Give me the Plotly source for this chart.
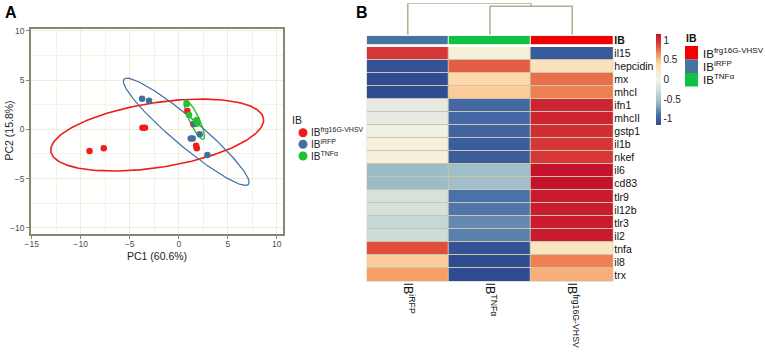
import numpy as np
import plotly.graph_objects as go

W, H = 765, 356

# ---------------- Panel A data (PCA scores) ----------------
groups = ["IB<sup>frg16G-VHSV</sup>", "IB<sup>iRFP</sup>", "IB<sup>TNFα</sup>"]
group_colors = ["#ee1c1c", "#41709f", "#25c030"]

pc1_frg = [-9.1, -7.65, -3.7, -3.45, 0.88, 1.49, 1.77, 1.84]
pc2_frg = [-2.2, -1.93, 0.15, 0.15, 1.86, 0.54, -1.66, -1.93]
pc1_irfp = [-3.74, -3.03, 1.22, 1.42, 2.14, 2.92, 1.6]
pc2_irfp = [3.11, 2.91, -0.92, -0.92, -0.51, -2.61, 0.55]
pc1_tnf = [0.82, 1.05, 1.84, 1.9, 1.75]
pc2_tnf = [2.57, 1.45, 0.95, 0.6, 0.85]

# ellipse parameters: centre x, centre y, semi-major, semi-minor, angle (deg)
ell_frg = [-2.2, -0.58, 10.97, 3.29, 8.8]
ell_irfp = [0.76, -0.25, 8.3, 1.4, -40.1]
ell_tnf = [1.58, 0.98, 2.2, 0.5, -64.9]

# ---------------- Panel B data (row-scaled heatmap) ----------------
genes = ["il15", "hepcidin", "mx", "mhcI", "ifn1", "mhcII", "gstp1", "il1b", "nkef",
         "il6", "cd83", "tlr9", "il12b", "tlr3", "il2", "tnfa", "il8", "trx"]
col_labels = ["IB<sup>iRFP</sup>", "IB<sup>TNFα</sup>", "IB<sup>frg16G-VHSV</sup>"]
val_irfp = [0.95, -1.10, -1.15, -1.15, -0.10, -0.10, -0.02, 0.08, 0.08,
            -0.58, -0.58, -0.22, -0.23, -0.32, -0.28, 0.85, 0.45, 0.60]
val_tnf = [0.10, 0.80, 0.40, 0.45, -0.95, -0.95, -0.98, -1.03, -1.03,
           -0.56, -0.56, -0.88, -0.86, -0.78, -0.82, -1.10, -1.15, -1.15]
val_frg = [-1.05, 0.30, 0.75, 0.70, 1.05, 1.05, 1.00, 0.95, 0.95,
           1.14, 1.14, 1.10, 1.09, 1.10, 1.10, 0.25, 0.70, 0.55]
annot_colors = ["#4574a3", "#10c040", "#f00000"]   # column annotation per column
legend_ib_labels = ["IB<sup>frg16G-VHSV</sup>", "IB<sup>iRFP</sup>", "IB<sup>TNFα</sup>"]
legend_ib_colors = ["#f00000", "#4574a3", "#10c040"]
# dendrogram merge heights (col2+col3, then col1 + cluster)
merge_h = [0.905, 1.0]

FONT = "Liberation Sans, Arial, sans-serif"


def px_x(p):
    return p / W


def px_y(p):
    return 1 - p / H


def ellipse(cx, cy, a, b, ang):
    t = np.linspace(0, 2 * np.pi, 240)
    th = np.deg2rad(ang)
    x = cx + a * np.cos(t) * np.cos(th) - b * np.sin(t) * np.sin(th)
    y = cy + a * np.cos(t) * np.sin(th) + b * np.sin(t) * np.cos(th)
    return x, y


fig = go.Figure()

# ellipses
for prm, col, lw in [(ell_frg, group_colors[0], 1.6), (ell_irfp, group_colors[1], 1.2),
                     (ell_tnf, group_colors[2], 1.4)]:
    ex, ey = ellipse(*prm)
    fig.add_trace(go.Scatter(x=ex, y=ey, mode="lines", line=dict(color=col, width=lw),
                             showlegend=False, hoverinfo="skip", xaxis="x", yaxis="y"))

# points
for xs, ys, name, col in [(pc1_frg, pc2_frg, groups[0], group_colors[0]),
                          (pc1_irfp, pc2_irfp, groups[1], group_colors[1]),
                          (pc1_tnf, pc2_tnf, groups[2], group_colors[2])]:
    fig.add_trace(go.Scatter(x=xs, y=ys, mode="markers", name=name,
                             marker=dict(color=col, size=6.5), xaxis="x", yaxis="y",
                             showlegend=False))

# heatmap
z = [[a, b, c] for a, b, c in zip(val_irfp, val_tnf, val_frg)]
cscale = [[0.0, "#2f4b93"], [0.12, "#4a72a8"], [0.25, "#9dbdc8"], [0.4, "#d6e0dc"],
          [0.5, "#f4f2e6"], [0.58, "#f8eccc"], [0.68, "#fdd6a6"], [0.78, "#f3925a"],
          [0.88, "#dc4438"], [1.0, "#c4102c"]]
fig.add_trace(go.Heatmap(
    z=z, x=[0, 1, 2], y=list(range(len(genes))), colorscale=cscale,
    zmin=-1.155, zmax=1.155, xgap=1, ygap=1, xaxis="x2", yaxis="y2",
    hoverinfo="skip",
    colorbar=dict(x=px_x(656), xanchor="left", y=px_y(34), yanchor="top",
                  len=91, lenmode="pixels", thickness=5, thicknessmode="pixels",
                  outlinewidth=0, ticks="", tickvals=[-1, -0.5, 0, 0.5, 1],
                  ticktext=["-1", "-0.5", "0", "0.5", "1"],
                  tickfont=dict(size=10, color="#222", family=FONT), xpad=0, ypad=0)))

# annotation row
fig.add_trace(go.Heatmap(
    z=[[0, 1, 2]], x=[0, 1, 2], y=[0],
    colorscale=[[0, annot_colors[0]], [0.333, annot_colors[0]], [0.334, annot_colors[1]],
                [0.666, annot_colors[1]], [0.667, annot_colors[2]], [1, annot_colors[2]]],
    zmin=0, zmax=2, showscale=False, xgap=1, ygap=0, xaxis="x2", yaxis="y4",
    hoverinfo="skip"))

# dendrogram
c_mid = (1 + 2) / 2
dx = [1, 1, 2, 2, None, 0, 0, c_mid, c_mid]
dy = [0, merge_h[0], merge_h[0], 0, None, 0, merge_h[1], merge_h[1], merge_h[0]]
fig.add_trace(go.Scatter(x=dx, y=dy, mode="lines", line=dict(color="#b3ac94", width=1.5),
                         showlegend=False, hoverinfo="skip", xaxis="x2", yaxis="y3"))

# ---------- layout ----------
grid_major = "#efecd8"
grid_minor = "#f5f3e6"
axcol = "#8a8674"


def label(text, x, y, size, xa="center", ya="middle", color="#222", angle=0):
    return dict(text=text, x=px_x(x), y=px_y(y), xref="paper", yref="paper", xanchor=xa,
                yanchor=ya, showarrow=False, textangle=angle,
                font=dict(size=size, family=FONT, color=color))


shapes = [
    # cell border background
    dict(type="rect", xref="x2", yref="y2", x0=-0.51, x1=2.51, y0=-0.53, y1=len(genes) - 0.47,
         fillcolor="#ccc5ad", line=dict(width=0), layer="below"),
]
annotations = [
    label("<b>A</b>", 3, 12.5, 16, xa="left", color="#000"),
    label("<b>B</b>", 354, 12.5, 16, xa="left", color="#000"),
    label("PC1 (60.6%)", 157, 256, 10.5),
    label("PC2 (15.8%)", 8.5, 131, 10.5, angle=-90),
    label("<b>IB</b>", 684, 38.5, 10.5, xa="left", color="#111"),
    label("IB", 289.5, 119.5, 10.5, xa="left"),
]
# legend of panel A (circles + labels)
leg_a_y = [132.7, 144.3, 156]
for i, (lab, col) in enumerate(zip(groups, group_colors)):
    cy = leg_a_y[i]
    shapes.append(dict(type="circle", xref="paper", yref="paper", x0=px_x(298.5), x1=px_x(307.5),
                       y0=px_y(cy + 4.5), y1=px_y(cy - 4.5), fillcolor=col, line=dict(width=0)))
    annotations.append(label(lab, 308.5, cy - 0.5, 10, xa="left"))
box_top = [46, 59.5, 73]
for i, (lab, col) in enumerate(zip(legend_ib_labels, legend_ib_colors)):
    t = box_top[i]
    shapes.append(dict(type="rect", xref="paper", yref="paper", x0=px_x(685), x1=px_x(698),
                       y0=px_y(t), y1=px_y(t + 13.5), fillcolor=col, line=dict(width=0)))
    annotations.append(label(lab, 701, t + 6.5, 11.5, xa="left", color="#111"))

fig.update_layout(
    width=W, height=H, margin=dict(l=0, r=0, t=0, b=0, autoexpand=False),
    paper_bgcolor="white", plot_bgcolor="white",
    font=dict(family=FONT, color="#222"),
    showlegend=False,
    xaxis=dict(domain=[px_x(31), px_x(282.7)], range=[-15.07, 10.6], anchor="y",
               tickvals=[-15, -10, -5, 0, 5, 10], ticks="outside", ticklen=3, tickcolor=axcol,
               showline=True, linecolor=axcol, linewidth=1.5, mirror=True,
               showgrid=True, gridcolor=grid_major, gridwidth=1, zeroline=False,
               ticklabelstandoff=-2,
               minor=dict(dtick=2.5, tick0=0, showgrid=True, gridcolor=grid_minor, ticks=""),
               tickfont=dict(size=8.5, color="#4d4d4d", family=FONT)),
    yaxis=dict(domain=[px_y(234.3), px_y(29.3)], range=[-10.67, 10.17], anchor="x",
               tickvals=[-10, -5, 0, 5, 10], ticks="outside", ticklen=3, tickcolor=axcol,
               showline=True, linecolor=axcol, linewidth=1.5, mirror=True,
               showgrid=True, gridcolor=grid_major, gridwidth=1, zeroline=False,
               minor=dict(dtick=2.5, tick0=0, showgrid=True, gridcolor=grid_minor, ticks=""),
               tickfont=dict(size=8.5, color="#4d4d4d", family=FONT)),
    xaxis2=dict(domain=[px_x(366.7), px_x(613.3)], range=[-0.5, 2.5], anchor="y2",
                tickvals=[0, 1, 2], ticktext=col_labels, tickangle=90, ticks="",
                showgrid=False, zeroline=False, showline=False,
                tickfont=dict(size=12.5, family=FONT, color="#111")),
    yaxis2=dict(domain=[px_y(281.5), px_y(47)], range=[len(genes) - 0.5, -0.5], anchor="x2",
                side="right", tickvals=list(range(len(genes))), ticktext=genes, ticks="",
                showgrid=False, zeroline=False, showline=False,
                tickfont=dict(size=10.5, family=FONT, color="#111")),
    yaxis3=dict(domain=[px_y(34.7), px_y(3.3)], range=[0, 1.0],
                anchor="x2", showticklabels=False, showgrid=False, zeroline=False,
                showline=False, ticks=""),
    yaxis4=dict(domain=[px_y(44.3), px_y(35.7)], range=[-0.5, 0.5], anchor="x2", side="right",
                tickvals=[0], ticktext=["<b>IB</b>"], ticks="", showgrid=False, zeroline=False,
                showline=False, tickfont=dict(size=10.5, family=FONT, color="#111")),
    shapes=shapes, annotations=annotations,
)

# remove the browser's default 8px page margin so the figure sits at the window origin
fig.write_html("out.html", config={"displayModeBar": False},
               post_script="document.body.style.margin='0';document.body.style.overflow='hidden';")
